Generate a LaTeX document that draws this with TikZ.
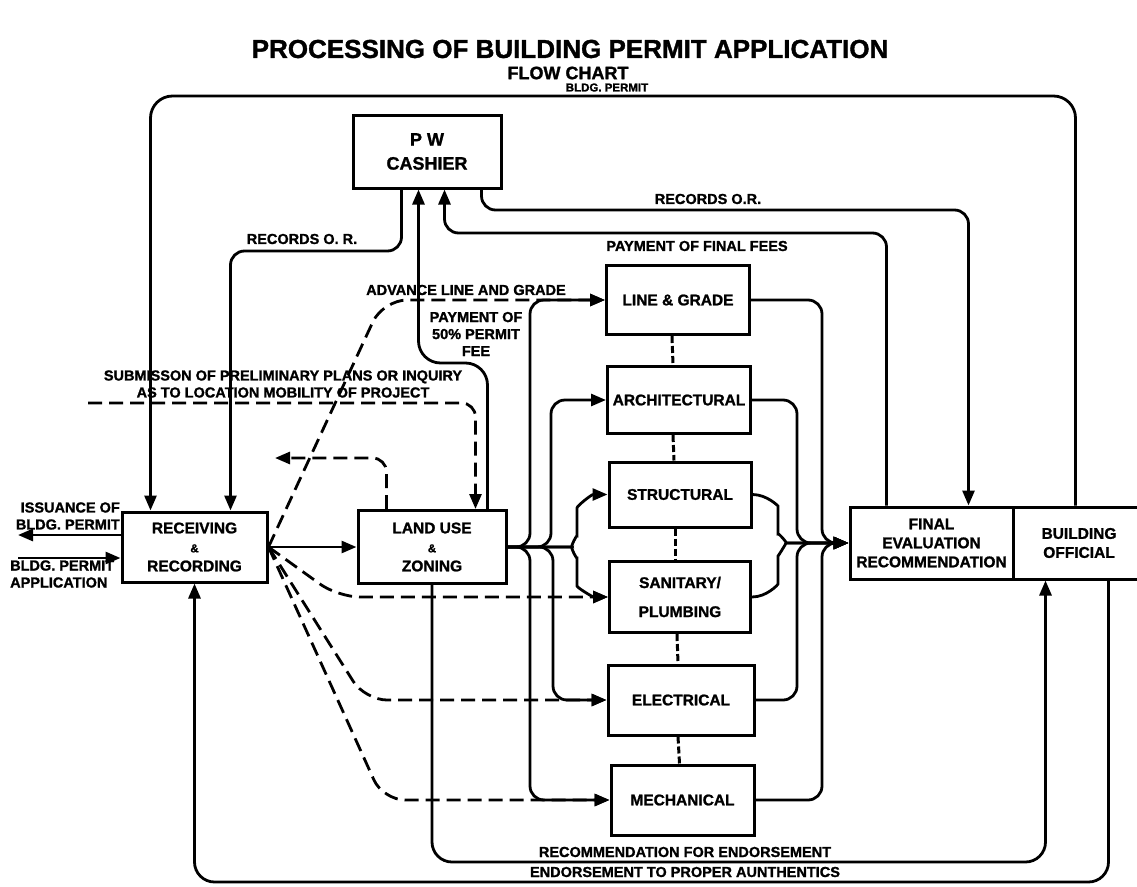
\documentclass[tikz,border=0pt]{standalone}
\usepackage{fontspec}
\setmainfont{Liberation Sans}[BoldFeatures={FakeBold=1.3}]
\usetikzlibrary{arrows.meta,calc}
\newcommand\bxf{\fontsize{15.5}{19}\selectfont\bfseries}
\newcommand\lbf{\fontsize{14.5}{17}\selectfont\bfseries}
\newcommand\amp{{\fontsize{11.5}{10}\selectfont\&}}
\begin{document}
\begin{tikzpicture}[x=1pt,y=-1pt,
  box/.style={draw, line width=3pt, align=center, inner sep=0pt, font=\bxf},
  conn/.style={line width=2.8pt, rounded corners=14pt},
  arr/.style={-{Triangle[length=15pt,width=12pt]}},
  dsh/.style={dash pattern=on 14pt off 7pt},
  dotc/.style={line width=3pt, dash pattern=on 7pt off 3pt},
  lbl/.style={font=\lbf, inner sep=0pt, align=center}]
\useasboundingbox (0,0) rectangle (1137,886);

% titles
\node[inner sep=0pt, font=\fontsize{26}{28}\selectfont\bfseries] (title) at (570,49) {PROCESSING OF BUILDING PERMIT APPLICATION};
\node[inner sep=0pt, font=\fontsize{18}{19}\selectfont\bfseries] (sub) at (568,73) {FLOW CHART};

% boxes
\node[box, minimum width=148pt, minimum height=73pt, font=\fontsize{18}{24}\selectfont\bfseries] (cash) at (427,151.5) {P W\\CASHIER};
\node[box, minimum width=145pt, minimum height=70pt] (recv) at (194.5,547) {RECEIVING\\\amp\\RECORDING};
\node[box, minimum width=148pt, minimum height=73pt] (land) at (432,547) {LAND USE\\\amp\\ZONING};
\node[box, minimum width=143pt, minimum height=69pt] (lg) at (678,300) {LINE \& GRADE};
\node[box, minimum width=143pt, minimum height=67pt] (arch) at (679,400) {ARCHITECTURAL};
\node[box, minimum width=142pt, minimum height=65pt] (str) at (680,494.5) {STRUCTURAL};
\node[box, minimum width=141pt, minimum height=71pt] (san) at (680,597) {SANITARY/\\[10pt]PLUMBING};
\node[box, minimum width=146pt, minimum height=70pt] (elec) at (681,700) {ELECTRICAL};
\node[box, minimum width=143pt, minimum height=70pt] (mech) at (682.5,800) {MECHANICAL};
\node[box, minimum width=163pt, minimum height=72pt] (fin) at (931.5,543) {FINAL\\EVALUATION\\RECOMMENDATION};
\node[box, minimum width=132pt, minimum height=72pt] (bo) at (1079,543) {BUILDING\\OFFICIAL};

% helper coordinates
\coordinate (top) at (0,96);
\coordinate (recY) at (0,251);
\coordinate (rec2Y) at (0,210);
\coordinate (feeY) at (0,233);
\coordinate (feeY2) at (0,363);
\coordinate (botY1) at (0,862);
\coordinate (botY2) at (0,882);
\coordinate (boT) at ([xshift=64pt]bo.north west);
\coordinate (rcT1) at ([xshift=30pt]recv.north west);
\coordinate (rcT2) at ([xshift=110pt]recv.north west);
\coordinate (caL) at ([xshift=50pt]cash.south west);
\coordinate (caP) at ([xshift=67pt]cash.south west);
\coordinate (caM) at ([xshift=93pt]cash.south west);
\coordinate (caR) at ([xshift=130pt]cash.south west);
\coordinate (fnT1) at ([xshift=38pt]fin.north west);
\coordinate (fnT2) at ([xshift=120pt]fin.north west);
\coordinate (lnT0) at ([xshift=30pt]land.north west);
\coordinate (lnT1) at ([xshift=119pt]land.north west);
\coordinate (lnT2) at ([xshift=131pt]land.north west);
\coordinate (boB1) at ([xshift=34pt]bo.south west);
\coordinate (boB2) at ([xshift=97pt]bo.south west);
\coordinate (subS) at (88,403);
\coordinate (ulE) at (275,458);
\coordinate (issE) at (18,535);
\coordinate (appS) at (18,558);

% top loop: BLDG. PERMIT
\draw[conn,arr,rounded corners=22pt] (boT) -- (boT |- top) -- (rcT1 |- top) -- (rcT1);
\node[lbl, font=\fontsize{11.5}{13}\selectfont\bfseries] (lbp) at (607,87.5) {BLDG. PERMIT};

% records O.R. (left)
\draw[conn,arr] (caL) -- (caL |- recY) -- (rcT2 |- recY) -- (rcT2);
\node[lbl] (lrec1) at (302,239) {RECORDS O. R.};

% records O.R. (right)
\draw[conn,arr] (caR) -- (caR |- rec2Y) -- (fnT2 |- rec2Y) -- (fnT2);
\node[lbl] (lrec2) at (708,199) {RECORDS O.R.};

% payment of final fees
\draw[conn,arr] (fnT1) -- (fnT1 |- feeY) -- (caM |- feeY) -- (caM);
\node[lbl] (lfee) at (697,246) {PAYMENT OF FINAL FEES};

% payment of 50% permit fee
\draw[conn,arr,rounded corners=22pt] (lnT2) -- (lnT2 |- feeY2) -- (caP |- feeY2) -- (caP);
\node[lbl] (lpay) at (476,334) {PAYMENT OF\\50\% PERMIT\\FEE};

% submission (dashed)
\draw[conn,dsh,arr] (subS) -| (lnT1);
\node[lbl] (lsub) at (283,384) {SUBMISSON OF PRELIMINARY PLANS OR INQUIRY\\AS TO LOCATION MOBILITY OF PROJECT};

% advance line and grade (dashed)
\draw[conn,dsh,arr,rounded corners=24pt] (recv.east) -- (383,300) -- (lg.west);
\node[lbl] (ladv) at (466,290) {ADVANCE LINE AND GRADE};

% up-left dashed
\draw[conn,dsh,arr] (lnT0) |- (ulE);

% dashed from receiving
\draw[conn,dsh,arr,rounded corners=22pt] (recv.east) -- (338,597) -- (san.west);
\draw[conn,dsh,arr,rounded corners=22pt] (recv.east) -- (365,700) -- (elec.west);
\draw[conn,dsh,arr,rounded corners=22pt] (recv.east) -- (383,800) -- (mech.west);

% receiving to land use
\draw[conn,arr] (recv.east) -- (land.west);

% land use fan
\draw[conn,arr] (land.east) -- (530,547) -- (530,300) -- (lg.west);
\draw[conn,arr] (land.east) -- (551,547) -- (551,400) -- (arch.west);
\draw[conn,arr] (land.east) -- (558,547) to[out=0,in=-90] (577,522) to[out=90,in=180] (str.west);
\draw[conn,arr] (land.east) -- (558,547) to[out=0,in=90] (577,572) to[out=-90,in=180] (san.west);
\draw[conn,arr] (land.east) -- (553,547) -- (553,700) -- (elec.west);
\draw[conn,arr] (land.east) -- (530,547) -- (530,800) -- (mech.west);

% merges into final evaluation
\draw[conn,arr] (lg.east) -- (822,300) -- (822,543) -- (fin.west);
\draw[conn,arr] (arch.east) -- (797,400) -- (797,543) -- (fin.west);
\draw[conn,arr] (str.east) to[out=0,in=90] (778,520) to[out=-90,in=180] (800,543) -- (fin.west);
\draw[conn,arr] (san.east) to[out=0,in=-90] (778,570) to[out=90,in=180] (800,543) -- (fin.west);
\draw[conn,arr] (elec.east) -- (797,700) -- (797,543) -- (fin.west);
\draw[conn,arr] (mech.east) -- (822,800) -- (822,543) -- (fin.west);

% dotted links between review boxes
\draw[dotc] ([xshift=-6pt]lg.south) -- ([xshift=-6pt]arch.north);
\draw[dotc] ([xshift=-6pt]arch.south) -- ([xshift=-6pt]str.north);
\draw[dotc] ([xshift=-5pt]str.south) -- ([xshift=-5pt]san.north);
\draw[dotc] ([xshift=-3pt]san.south) -- ([xshift=-3pt]elec.north);
\draw[dotc] ([xshift=-3pt]elec.south) -- ([xshift=-3pt]mech.north);

% bottom loops
\draw[conn,arr,rounded corners=20pt] (land.south) -- (land.south |- botY1) -- (boB1 |- botY1) -- (boB1);
\node[lbl] (lrecm) at (685,852) {RECOMMENDATION FOR ENDORSEMENT};
\draw[conn,arr,rounded corners=20pt] (boB2) -- (boB2 |- botY2) -- (recv.south |- botY2) -- (recv.south);
\node[lbl] (lend) at (685,872) {ENDORSEMENT TO PROPER AUNTHENTICS};

% left in/out
\draw[conn,arr] ([yshift=12pt]recv.west) -- (issE);
\node[lbl, align=right, anchor=east] (liss) at (120,516) {ISSUANCE OF\\BLDG. PERMIT};
\draw[conn,arr] (appS) -- ([yshift=-11pt]recv.west);
\node[lbl, align=left, anchor=west] (lapp) at (10,574) {BLDG. PERMIT\\APPLICATION};
\end{tikzpicture}
\end{document}
